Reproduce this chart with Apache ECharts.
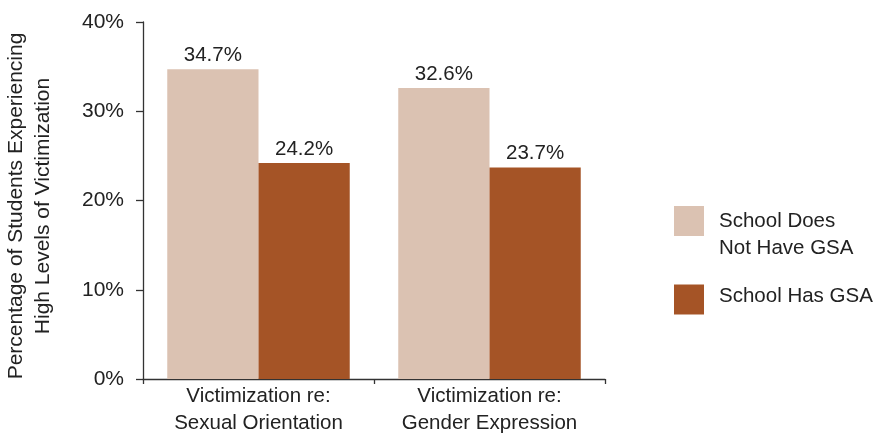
<!DOCTYPE html>
<html>
<head>
<meta charset="utf-8">
<script src="https://cdn.jsdelivr.net/npm/echarts@6/dist/echarts.min.js"></script>
<style>html,body{margin:0;padding:0;background:#fff}#c{width:881px;height:433px}</style>
</head>
<body>
<div id="c"></div>
<script>
const categories = ['Victimization re:\nSexual Orientation', 'Victimization re:\nGender Expression'];
const seriesNames = ['School Does Not Have GSA', 'School Has GSA'];
const legendLabels = ['School Does\nNot Have GSA', 'School Has GSA'];
const noGSA = [34.7, 32.6];
const hasGSA = [24.2, 23.7];
const yTicks = [0, 10, 20, 30, 40];
const yTitle = 'Percentage of Students Experiencing\nHigh Levels of Victimization';

const FONT = '"Liberation Sans", Arial, Helvetica, sans-serif';
const TXT = '#222';
const AX = '#333';
const colors = ['#dbc2b2', '#a55426'];

const legendText = (lines, pre, post) => {
  const parts = [];
  if (pre) parts.push('{s| }');
  lines.split('\n').forEach(l => parts.push('{a|' + l + '}'));
  if (post) parts.push('{t| }');
  return parts.join('\n');
};
const legendRich = {
  a: { fontSize: 20.5, lineHeight: 27, color: TXT, fontFamily: FONT },
  s: { fontSize: 2, lineHeight: 27, height: 27 },
  t: { fontSize: 2, lineHeight: 6, height: 6 }
};

const chart = echarts.init(document.getElementById('c'));
chart.setOption({
  animation: false,
  textStyle: { fontFamily: FONT },
  grid: { left: 143, right: 276, top: 22, bottom: 54, containLabel: false, outerBoundsMode: 'none' },
  graphic: [{
    type: 'text',
    x: 30, y: 206,
    rotation: Math.PI / 2,
    style: {
      text: yTitle,
      align: 'center',
      verticalAlign: 'middle',
      fontSize: 21,
      lineHeight: 27,
      fontFamily: FONT,
      fill: TXT
    }
  }],
  xAxis: {
    type: 'category',
    data: categories,
    axisLine: { lineStyle: { color: AX, width: 1.3 } },
    axisTick: { show: true, length: 5, lineStyle: { color: AX, width: 1.3 } },
    axisLabel: { color: TXT, fontSize: 20.5, lineHeight: 27, margin: 4, fontFamily: FONT }
  },
  yAxis: {
    type: 'value',
    min: yTicks[0],
    max: yTicks[yTicks.length - 1],
    interval: 10,
    axisLine: { show: true, lineStyle: { color: AX, width: 1.3 } },
    axisTick: { show: true, length: 7, lineStyle: { color: AX, width: 1.3 } },
    splitLine: { show: false },
    axisLabel: { color: TXT, fontSize: 21, margin: 19, formatter: '{value}%', fontFamily: FONT }
  },
  legend: [
    {
      data: [seriesNames[0]],
      orient: 'vertical',
      left: 674, top: 180.5,
      padding: 0,
      itemWidth: 30, itemHeight: 30,
      icon: 'rect',
      formatter: () => legendText(legendLabels[0], true, false),
      textStyle: { color: TXT, fontSize: 20.5, padding: [0, 0, 0, 10], fontFamily: FONT, rich: legendRich }
    },
    {
      data: [seriesNames[1]],
      orient: 'vertical',
      left: 674, top: 284.5,
      padding: 0,
      itemWidth: 30, itemHeight: 30,
      icon: 'rect',
      formatter: () => legendText(legendLabels[1], false, true),
      textStyle: { color: TXT, fontSize: 20.5, padding: [0, 0, 0, 10], fontFamily: FONT, rich: legendRich }
    }
  ],
  series: [
    {
      name: seriesNames[0], type: 'bar', data: noGSA,
      barGap: '0%', barCategoryGap: '21%',
      itemStyle: { color: colors[0] },
      label: { show: true, position: 'top', distance: 3.5, color: TXT, fontSize: 20.5, fontFamily: FONT, formatter: p => p.value.toFixed(1) + '%' }
    },
    {
      name: seriesNames[1], type: 'bar', data: hasGSA,
      barGap: '0%', barCategoryGap: '21%',
      itemStyle: { color: colors[1] },
      label: { show: true, position: 'top', distance: 3.5, color: TXT, fontSize: 20.5, fontFamily: FONT, formatter: p => p.value.toFixed(1) + '%' }
    }
  ]
});
</script>
</body>
</html>
